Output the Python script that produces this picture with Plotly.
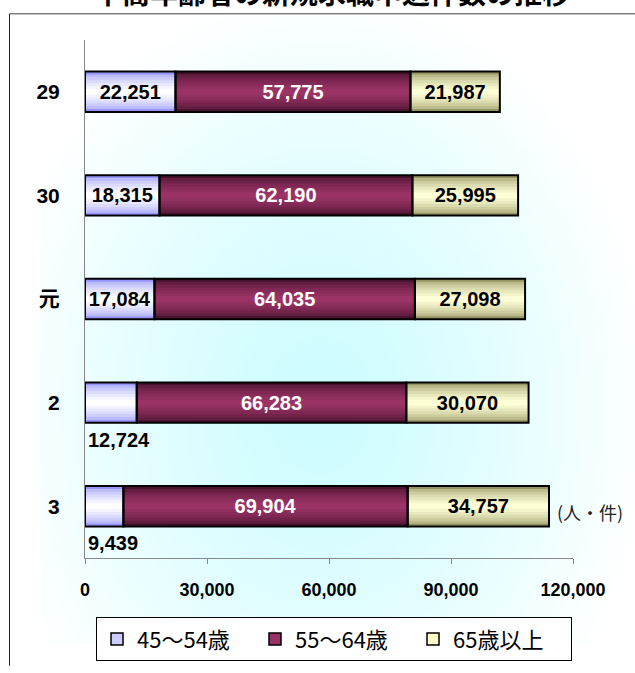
import base64
import struct
import zlib

import plotly.graph_objects as go

# ---------------- data ----------------
years = ["29", "30", "元", "2", "3"]
series_names = ["45～54歳", "55～64歳", "65歳以上"]
age_45_54 = [22251, 18315, 17084, 12724, 9439]
age_55_64 = [57775, 62190, 64035, 66283, 69904]
age_65_up = [21987, 25995, 27098, 30070, 34757]
x_tick_vals = [0, 30000, 60000, 90000, 120000]
title_text = "中高年齢者の新規求職申込件数の推移"
unit_text = "(人・件)"

# ---------------- style ----------------
W, H = 635, 673
ML, MR, MT, MB = 85, 62, 40, 109
PW, PH = W - ML - MR, H - MT - MB
NUM_FONT = "Liberation Sans, Arial, Noto Sans CJK JP, sans-serif"
JP_FONT = "Noto Sans CJK JP, sans-serif"
BAR_W = 0.39
N_LAYERS = 7

seg_styles = [
    dict(edge=(150, 150, 250), center=(255, 255, 255), legend="#CCCCFF", text="#000000"),
    dict(edge=(70, 18, 45), center=(155, 51, 102), legend="#993366", text="#FFFFFF"),
    dict(edge=(150, 150, 100), center=(255, 255, 215), legend="#FFFFCC", text="#000000"),
]


def px_x(p):
    return (p - ML) / PW


def px_y(p):
    return (H - MB - p) / PH


def png_data_uri(w, h, fn):
    rows = []
    for j in range(h):
        row = bytearray(b"\x00")
        for i in range(w):
            row.extend(fn(i, j))
        rows.append(bytes(row))
    raw = b"".join(rows)

    def chunk(t, d):
        c = struct.pack(">I", len(d)) + t + d
        return c + struct.pack(">I", zlib.crc32(t + d) & 0xFFFFFFFF)

    png = (b"\x89PNG\r\n\x1a\n"
           + chunk(b"IHDR", struct.pack(">IIBBBBB", w, h, 8, 2, 0, 0, 0))
           + chunk(b"IDAT", zlib.compress(raw, 9))
           + chunk(b"IEND", b""))
    return "data:image/png;base64," + base64.b64encode(png).decode()


# radial background gradient (pixel box of the chart area)
BX0, BX1, BY0, BY1 = 40, 635, 15, 650
GW, GH = 120, 128
CX, CY, RX, RY = 320, 410, 330, 420
C_CENTER = (205, 252, 255)


def bg_pixel(i, j):
    x = BX0 + (i + 0.5) * (BX1 - BX0) / GW
    y = BY0 + (j + 0.5) * (BY1 - BY0) / GH
    t = min(1.0, (((x - CX) / RX) ** 2 + ((y - CY) / RY) ** 2) ** 0.5) ** 1.3
    return bytes(int(round(c + (255 - c) * t)) for c in C_CENTER)


def mix(a, b, t):
    return "rgb(%d,%d,%d)" % tuple(int(round(a[k] + (b[k] - a[k]) * t)) for k in range(3))


series = [age_45_54, age_55_64, age_65_up]
bases = []
acc = [0] * len(years)
for vals in series:
    bases.append(list(acc))
    acc = [a + v for a, v in zip(acc, vals)]

fig = go.Figure()

# legend-only entries
for name, st in zip(series_names, seg_styles):
    fig.add_trace(go.Bar(
        x=[None], y=[None], orientation="h", name=name,
        marker=dict(color=st["legend"], line=dict(color="#000000", width=1.5)),
        showlegend=True,
    ))

# gradient layers
for vals, base, st in zip(series, bases, seg_styles):
    for k in range(N_LAYERS):
        frac = k / (N_LAYERS - 1)
        fig.add_trace(go.Bar(
            x=vals, y=years, base=base, orientation="h",
            width=BAR_W * (1 - k / N_LAYERS),
            marker=dict(color=mix(st["edge"], st["center"], frac ** 0.6), line=dict(width=0)),
            showlegend=False, hoverinfo="skip",
        ))

# outlines + labels
for idx, (vals, base, st) in enumerate(zip(series, bases, seg_styles)):
    if idx == 0:
        texts = [f"{v:,}" if v >= 15000 else "" for v in vals]
    else:
        texts = [f"{v:,}" for v in vals]
    fig.add_trace(go.Bar(
        x=vals, y=years, base=base, orientation="h", width=BAR_W,
        marker=dict(color="rgba(0,0,0,0)", line=dict(color="#000000", width=2)),
        text=texts, textposition="inside", insidetextanchor="middle", textangle=0,
        constraintext="none",
        insidetextfont=dict(family=NUM_FONT, size=20, color=st["text"], weight="bold"),
        showlegend=False, name=series_names[idx],
    ))

annotations = []
# small first-segment values written under their bars
for i, v in enumerate(age_45_54):
    if v < 15000:
        annotations.append(dict(
            x=0, y=i, xref="x", yref="y", text=f"{v:,}", showarrow=False,
            xanchor="left", yanchor="middle", xshift=1, yshift=-37,
            font=dict(family=NUM_FONT, size=20, color="#000000", weight="bold"),
        ))
# unit
annotations.append(dict(
    x=px_x(555), y=len(years) - 1, xref="paper", yref="y", text=unit_text,
    showarrow=False, xanchor="left", yanchor="middle", yshift=-6,
    font=dict(family=JP_FONT, size=18, color="#222222"),
))
# title (mostly above the visible page, as in the reference)
annotations.append(dict(
    x=px_x(332), y=px_y(14), xref="paper", yref="paper", text=title_text,
    showarrow=False, xanchor="center", yanchor="bottom",
    font=dict(family=JP_FONT, size=28, color="#000000", weight="bold"),
))

fig.update_layout(
    width=W, height=H, autosize=False,
    margin=dict(l=ML, r=MR, t=MT, b=MB, pad=0),
    paper_bgcolor="#FFFFFF", plot_bgcolor="rgba(0,0,0,0)",
    barmode="overlay", bargap=0.6,
    showlegend=True,
    legend=dict(
        orientation="h", x=px_x(334), xanchor="center", y=px_y(624), yanchor="top",
        bordercolor="#000000", borderwidth=1, bgcolor="#FFFFFF",
        font=dict(family=JP_FONT, size=22, color="#000000"),
        traceorder="normal", entrywidth=113, entrywidthmode="pixels",
        itemwidth=30,
    ),
    images=[dict(
        source=png_data_uri(GW, GH, bg_pixel), xref="paper", yref="paper",
        x=px_x(BX0), y=px_y(BY0), sizex=(BX1 - BX0) / PW, sizey=(BY1 - BY0) / PH,
        xanchor="left", yanchor="top", sizing="stretch", layer="below",
    )],
    shapes=[
        dict(type="line", xref="paper", yref="paper",
             x0=px_x(9.5), x1=px_x(9.5), y0=px_y(H), y1=px_y(13.5),
             line=dict(color="#222222", width=1), layer="above"),
        dict(type="line", xref="paper", yref="paper",
             x0=px_x(9.5), x1=px_x(W), y0=px_y(13.5), y1=px_y(13.5),
             line=dict(color="#444444", width=1), layer="above"),
    ],
    annotations=annotations,
    xaxis=dict(
        range=[0, 120000], tickvals=x_tick_vals, tickformat=",",
        showgrid=False, zeroline=False, showline=True, linecolor="#888888", linewidth=1,
        ticks="outside", ticklen=5, tickcolor="#888888", ticklabelstandoff=10,
        tickfont=dict(family=NUM_FONT, size=18, color="#000000", weight="bold"),
        fixedrange=True,
    ),
    yaxis=dict(
        type="category", categoryorder="array", categoryarray=years, autorange="reversed",
        showgrid=False, zeroline=False, showline=True, linecolor="#888888", linewidth=1,
        ticks="", ticklabelstandoff=20,
        tickfont=dict(family=NUM_FONT, size=21, color="#000000", weight="bold"),
        fixedrange=True,
    ),
)

fig.write_html("out.html", config={"displayModeBar": False},
               post_script="document.body.style.margin='0';")
